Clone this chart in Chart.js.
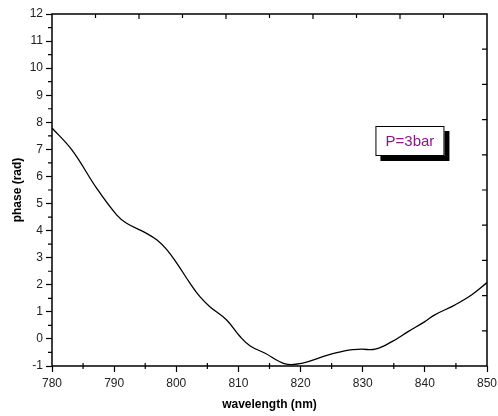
<!DOCTYPE html>
<html>
<head>
<meta charset="utf-8">
<script src="https://cdn.jsdelivr.net/npm/chart.js@4"></script>
<style>
  html, body { margin: 0; padding: 0; background: #fff; }
  #wrap { width: 498px; height: 416px; }
</style>
</head>
<body>
<div id="wrap"><canvas id="myChart" width="498" height="416"></canvas></div>
<script>
// values
let wavelength = [780, 783.2, 787.2, 790.4, 792, 795.2, 796.9, 798.5, 800.1, 802.2, 803.8, 805.4, 808.1, 810.3, 811.9, 814.3, 817.5, 820.2, 824.5, 827.7, 829.8, 832, 834.7, 837.3, 840, 841.6, 844.8, 847.5, 850];
let phase = [7.79, 6.98, 5.56, 4.58, 4.27, 3.90, 3.65, 3.29, 2.79, 2.06, 1.56, 1.19, 0.70, 0.08, -0.26, -0.53, -0.92, -0.90, -0.59, -0.41, -0.38, -0.38, -0.10, 0.27, 0.64, 0.89, 1.25, 1.62, 2.08];
let labelText = 'P=3bar';
let labelAt = {x: 837.6, y: 7.31};

let points = [];
for (let i = 0; i < wavelength.length; i++) {
    points.push({x: wavelength[i], y: phase[i]});
}

// frame, minor ticks and the text box
let framePlugin = {
    id: 'frame',
    afterDraw(chart) {
        let c = chart.ctx;
        let xs = chart.scales.x, ys = chart.scales.y;
        let a = chart.chartArea;
        c.save();
        c.strokeStyle = '#000';
        c.lineWidth = 1.5;
        c.strokeRect(a.left, a.top, a.right - a.left, a.bottom - a.top);
        c.lineWidth = 1.2;
        c.beginPath();
        // minor ticks on the left and bottom
        for (let v = -0.5; v < 12; v += 1) {
            let py = ys.getPixelForValue(v);
            c.moveTo(a.left - 4, py); c.lineTo(a.left, py);
        }
        for (let v = 785; v < 850; v += 10) {
            let px = xs.getPixelForValue(v);
            c.moveTo(px, a.bottom + 3); c.lineTo(px, a.bottom - 3);
        }
        // top and right ticks, pointing in
        for (let i = 1; i < 10; i++) {
            let px = a.left + (a.right - a.left) * i / 10;
            c.moveTo(px, a.top); c.lineTo(px, a.top + (i % 2 ? 4 : 5));
            let py = a.top + (a.bottom - a.top) * i / 10;
            c.moveTo(a.right, py); c.lineTo(a.right - 5, py);
        }
        c.stroke();

        let cx = xs.getPixelForValue(labelAt.x), cy = ys.getPixelForValue(labelAt.y);
        let w = 69, h = 30;
        c.fillStyle = '#000';
        c.fillRect(cx - w / 2 + 5, cy - h / 2 + 5, w, h);
        c.fillStyle = '#fff';
        c.fillRect(cx - w / 2, cy - h / 2, w, h);
        c.lineWidth = 1;
        c.strokeRect(cx - w / 2 + 0.5, cy - h / 2 + 0.5, w - 1, h - 1);
        c.fillStyle = '#8b168b';
        c.font = '15px "Liberation Sans", Arial, sans-serif';
        c.textAlign = 'center';
        c.textBaseline = 'middle';
        c.fillText(labelText, cx, cy + 1);
        c.restore();
    }
};

let tickFont = {family: '"Liberation Sans", Arial, sans-serif', size: 12};
let titleFont = {family: '"Liberation Sans", Arial, sans-serif', size: 12, weight: 'bold'};

let ctx = document.getElementById('myChart');
let myChart = new Chart(ctx, {
    type: 'line',
    data: {
        datasets: [{
            data: points,
            borderColor: '#000',
            borderWidth: 1.3,
            pointRadius: 0,
            tension: 0.4,
            fill: false
        }]
    },
    options: {
        responsive: false,
        animation: false,
        layout: {padding: {top: 14, right: 11, left: 0, bottom: 0}},
        plugins: {legend: {display: false}, tooltip: {enabled: false}},
        scales: {
            x: {
                type: 'linear',
                min: 780,
                max: 850,
                ticks: {stepSize: 10, color: '#222', font: tickFont, padding: 4},
                grid: {drawOnChartArea: false, tickLength: 6, color: '#000', tickWidth: 1.2},
                border: {display: false},
                title: {display: true, text: 'wavelength (nm)', color: '#000', font: titleFont, padding: {top: 4}},
                afterFit(scale) {
                    scale.height = 50;
                    scale.paddingRight = 0;
                    scale.paddingLeft = 0;
                }
            },
            y: {
                min: -1,
                max: 12,
                ticks: {stepSize: 1, color: '#222', font: tickFont, padding: 3},
                grid: {drawOnChartArea: false, tickLength: 6, color: '#000', tickWidth: 1.2},
                border: {display: false},
                title: {display: true, text: 'phase (rad)', color: '#000', font: titleFont, padding: {top: 10, bottom: 0}},
                afterFit(scale) {
                    scale.width = 52;
                    scale.paddingTop = 0;
                    scale.paddingBottom = 0;
                }
            }
        }
    },
    plugins: [framePlugin]
});
</script>
</body>
</html>
